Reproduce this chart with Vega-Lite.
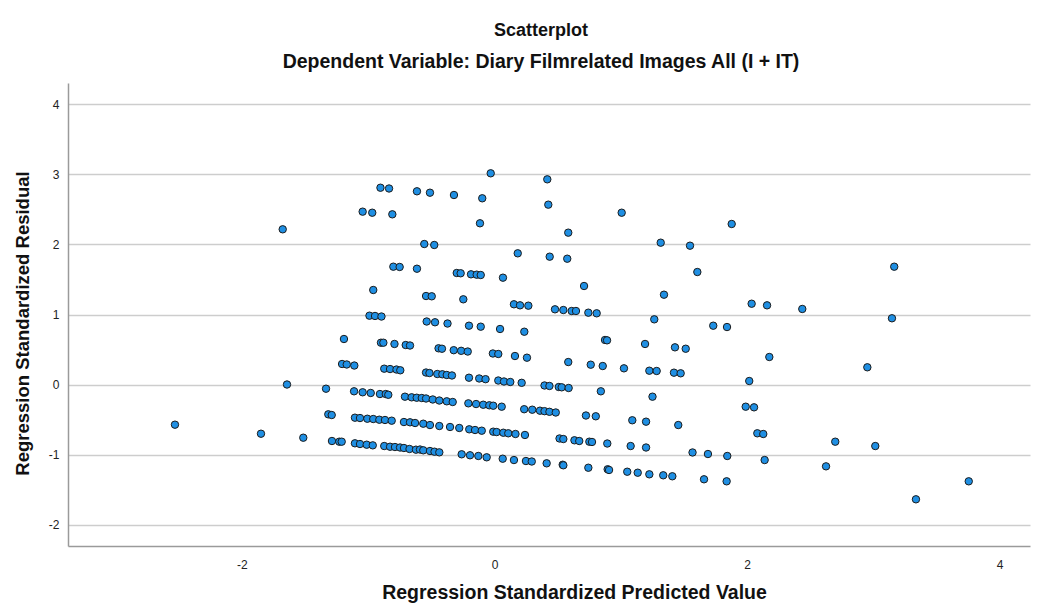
{
  "$schema": "https://vega.github.io/schema/vega-lite/v6.json",
  "width": 962,
  "height": 463,
  "autosize": "none",
  "padding": {"left": 68, "top": 83, "right": 7, "bottom": 66},
  "background": "white",
  "config": {"view": {"stroke": null}, "font": "Liberation Sans"},
  "title": {
    "text": "Scatterplot",
    "subtitle": "Dependent Variable: Diary Filmrelated Images All (I + IT)",
    "anchor": "middle",
    "fontSize": 18,
    "fontWeight": "bold",
    "color": "#111111",
    "subtitleFontSize": 19.5,
    "subtitleFontWeight": "bold",
    "subtitleColor": "#111111",
    "subtitlePadding": 13,
    "offset": 12,
    "dx": -8
  },
  "data": {"values": [
    {"x": -0.030, "y": 3.017}, {"x": -0.903, "y": 2.811}, {"x": -0.835, "y": 2.800}, {"x": -0.614, "y": 2.760},
    {"x": -0.511, "y": 2.740}, {"x": -0.321, "y": 2.707}, {"x": -0.097, "y": 2.660}, {"x": 0.418, "y": 2.931},
    {"x": -1.044, "y": 2.469}, {"x": -0.968, "y": 2.454}, {"x": -0.809, "y": 2.431}, {"x": -0.115, "y": 2.303},
    {"x": -1.677, "y": 2.217}, {"x": 0.426, "y": 2.569}, {"x": 1.007, "y": 2.454}, {"x": 0.584, "y": 2.169},
    {"x": 1.878, "y": 2.293}, {"x": -0.556, "y": 2.007}, {"x": -0.477, "y": 1.993}, {"x": 1.316, "y": 2.026},
    {"x": 1.548, "y": 1.983}, {"x": 0.184, "y": 1.874}, {"x": 0.437, "y": 1.826}, {"x": 0.576, "y": 1.797},
    {"x": -0.801, "y": 1.683}, {"x": -0.751, "y": 1.679}, {"x": -0.614, "y": 1.654}, {"x": -0.299, "y": 1.593},
    {"x": -0.268, "y": 1.589}, {"x": -0.186, "y": 1.574}, {"x": -0.141, "y": 1.569}, {"x": -0.109, "y": 1.564},
    {"x": 0.067, "y": 1.526}, {"x": 1.606, "y": 1.607}, {"x": 3.165, "y": 1.683}, {"x": -0.960, "y": 1.350},
    {"x": -0.542, "y": 1.264}, {"x": -0.497, "y": 1.260}, {"x": -0.247, "y": 1.217}, {"x": 0.709, "y": 1.407},
    {"x": 1.342, "y": 1.283}, {"x": 2.036, "y": 1.154}, {"x": 2.158, "y": 1.131}, {"x": 2.437, "y": 1.079},
    {"x": 0.154, "y": 1.146}, {"x": 0.202, "y": 1.131}, {"x": 0.268, "y": 1.126}, {"x": 0.479, "y": 1.074},
    {"x": 0.545, "y": 1.064}, {"x": 0.611, "y": 1.050}, {"x": 0.645, "y": 1.050}, {"x": 0.743, "y": 1.026},
    {"x": 0.809, "y": 1.017}, {"x": -0.990, "y": 0.983}, {"x": -0.946, "y": 0.979}, {"x": -0.895, "y": 0.971},
    {"x": -0.537, "y": 0.900}, {"x": -0.471, "y": 0.889}, {"x": -0.372, "y": 0.871}, {"x": -0.202, "y": 0.840},
    {"x": -0.109, "y": 0.826}, {"x": 0.044, "y": 0.793}, {"x": 0.236, "y": 0.754}, {"x": 1.265, "y": 0.931},
    {"x": 1.732, "y": 0.840}, {"x": 1.841, "y": 0.821}, {"x": 3.147, "y": 0.946}, {"x": -1.192, "y": 0.650},
    {"x": -0.899, "y": 0.597}, {"x": -0.880, "y": 0.597}, {"x": -0.792, "y": 0.579}, {"x": -0.703, "y": 0.564},
    {"x": -0.669, "y": 0.557}, {"x": -0.443, "y": 0.517}, {"x": -0.416, "y": 0.511}, {"x": -0.323, "y": 0.490},
    {"x": -0.264, "y": 0.481}, {"x": -0.212, "y": 0.471}, {"x": -0.013, "y": 0.443}, {"x": 0.030, "y": 0.436},
    {"x": 0.162, "y": 0.407}, {"x": 0.257, "y": 0.383}, {"x": 0.875, "y": 0.636}, {"x": 0.891, "y": 0.631},
    {"x": 1.192, "y": 0.579}, {"x": 1.429, "y": 0.531}, {"x": 1.514, "y": 0.511}, {"x": 2.176, "y": 0.393},
    {"x": 2.952, "y": 0.246}, {"x": -1.207, "y": 0.293}, {"x": -1.170, "y": 0.286}, {"x": -1.110, "y": 0.271},
    {"x": -0.873, "y": 0.226}, {"x": -0.827, "y": 0.221}, {"x": -0.776, "y": 0.214}, {"x": -0.746, "y": 0.203},
    {"x": 0.584, "y": 0.321}, {"x": 0.762, "y": 0.283}, {"x": 0.857, "y": 0.264}, {"x": 1.025, "y": 0.231},
    {"x": 1.226, "y": 0.197}, {"x": 1.284, "y": 0.193}, {"x": 1.421, "y": 0.169}, {"x": 1.474, "y": 0.160},
    {"x": -0.542, "y": 0.171}, {"x": -0.515, "y": 0.164}, {"x": -0.453, "y": 0.150}, {"x": -0.413, "y": 0.146},
    {"x": -0.378, "y": 0.136}, {"x": -0.337, "y": 0.129}, {"x": -0.202, "y": 0.097}, {"x": -0.121, "y": 0.086},
    {"x": -0.071, "y": 0.076}, {"x": 0.030, "y": 0.057}, {"x": 0.075, "y": 0.043}, {"x": 0.125, "y": 0.036},
    {"x": 0.215, "y": 0.024}, {"x": -1.643, "y": 0.000}, {"x": -1.334, "y": -0.060}, {"x": 0.396, "y": -0.014},
    {"x": 0.435, "y": -0.021}, {"x": 0.509, "y": -0.036}, {"x": 0.532, "y": -0.040}, {"x": 0.587, "y": -0.050},
    {"x": 0.842, "y": -0.097}, {"x": 1.251, "y": -0.174}, {"x": 2.017, "y": 0.050}, {"x": -1.112, "y": -0.097},
    {"x": -1.044, "y": -0.111}, {"x": -0.980, "y": -0.121}, {"x": -0.907, "y": -0.136}, {"x": -0.861, "y": -0.136},
    {"x": -0.841, "y": -0.147}, {"x": -0.709, "y": -0.174}, {"x": -0.656, "y": -0.183}, {"x": -0.616, "y": -0.189},
    {"x": -0.576, "y": -0.193}, {"x": -0.542, "y": -0.200}, {"x": -0.489, "y": -0.214}, {"x": -0.437, "y": -0.229},
    {"x": -0.378, "y": -0.240}, {"x": -0.331, "y": -0.250}, {"x": -0.207, "y": -0.269}, {"x": -0.146, "y": -0.279},
    {"x": -0.089, "y": -0.289}, {"x": -0.041, "y": -0.297}, {"x": -0.010, "y": -0.303}, {"x": 0.057, "y": -0.317},
    {"x": 0.235, "y": -0.353}, {"x": 0.299, "y": -0.360}, {"x": 0.360, "y": -0.374}, {"x": 0.396, "y": -0.381},
    {"x": 0.435, "y": -0.390}, {"x": 0.485, "y": -0.400}, {"x": 0.724, "y": -0.443}, {"x": 0.802, "y": -0.454},
    {"x": 1.091, "y": -0.511}, {"x": 1.200, "y": -0.531}, {"x": 1.455, "y": -0.579}, {"x": 1.989, "y": -0.317},
    {"x": 2.055, "y": -0.326}, {"x": -1.316, "y": -0.426}, {"x": -1.289, "y": -0.436}, {"x": -1.105, "y": -0.474},
    {"x": -1.065, "y": -0.479}, {"x": -1.007, "y": -0.489}, {"x": -0.960, "y": -0.493}, {"x": -0.912, "y": -0.503},
    {"x": -0.867, "y": -0.507}, {"x": -0.814, "y": -0.517}, {"x": -0.717, "y": -0.536}, {"x": -0.669, "y": -0.540},
    {"x": -0.629, "y": -0.550}, {"x": -0.564, "y": -0.560}, {"x": -0.511, "y": -0.579}, {"x": -0.437, "y": -0.593},
    {"x": -0.352, "y": -0.607}, {"x": -0.279, "y": -0.621}, {"x": -0.200, "y": -0.640}, {"x": -0.154, "y": -0.650},
    {"x": -0.101, "y": -0.660}, {"x": -0.010, "y": -0.674}, {"x": 0.017, "y": -0.679}, {"x": 0.070, "y": -0.689},
    {"x": 0.109, "y": -0.697}, {"x": 0.166, "y": -0.707}, {"x": 0.241, "y": -0.721}, {"x": 0.515, "y": -0.771},
    {"x": 0.545, "y": -0.779}, {"x": 0.633, "y": -0.797}, {"x": 0.671, "y": -0.807}, {"x": 0.751, "y": -0.817},
    {"x": 0.772, "y": -0.821}, {"x": 0.893, "y": -0.843}, {"x": 1.078, "y": -0.879}, {"x": 1.200, "y": -0.900},
    {"x": 1.568, "y": -0.971}, {"x": 1.690, "y": -0.993}, {"x": 1.843, "y": -1.021}, {"x": 2.081, "y": -0.697},
    {"x": 2.128, "y": -0.707}, {"x": 2.698, "y": -0.817}, {"x": 3.015, "y": -0.879}, {"x": -2.530, "y": -0.574},
    {"x": -1.849, "y": -0.703}, {"x": -1.514, "y": -0.760}, {"x": -1.287, "y": -0.807}, {"x": -1.229, "y": -0.817},
    {"x": -1.210, "y": -0.817}, {"x": -1.105, "y": -0.840}, {"x": -1.065, "y": -0.850}, {"x": -1.012, "y": -0.860},
    {"x": -0.964, "y": -0.869}, {"x": -0.873, "y": -0.879}, {"x": -0.827, "y": -0.889}, {"x": -0.788, "y": -0.893},
    {"x": -0.748, "y": -0.900}, {"x": -0.717, "y": -0.907}, {"x": -0.673, "y": -0.921}, {"x": -0.622, "y": -0.931},
    {"x": -0.590, "y": -0.929}, {"x": -0.564, "y": -0.940}, {"x": -0.511, "y": -0.950}, {"x": -0.475, "y": -0.960},
    {"x": -0.437, "y": -0.969}, {"x": -0.260, "y": -0.997}, {"x": -0.194, "y": -1.011}, {"x": -0.128, "y": -1.021},
    {"x": -0.062, "y": -1.040}, {"x": 0.065, "y": -1.060}, {"x": 0.154, "y": -1.079}, {"x": 0.249, "y": -1.093},
    {"x": 0.295, "y": -1.100}, {"x": 0.413, "y": -1.126}, {"x": 0.540, "y": -1.146}, {"x": 0.545, "y": -1.154},
    {"x": 0.743, "y": -1.189}, {"x": 0.896, "y": -1.211}, {"x": 0.907, "y": -1.221}, {"x": 1.051, "y": -1.246},
    {"x": 1.134, "y": -1.260}, {"x": 1.226, "y": -1.283}, {"x": 1.336, "y": -1.297}, {"x": 1.408, "y": -1.311},
    {"x": 1.659, "y": -1.354}, {"x": 1.838, "y": -1.383}, {"x": 2.139, "y": -1.079}, {"x": 2.625, "y": -1.169},
    {"x": 3.755, "y": -1.383}, {"x": 3.337, "y": -1.640}
  ]},
  "mark": {"type": "point", "shape": "circle", "filled": true, "size": 55, "fill": "#1f8fe3", "fillOpacity": 1, "stroke": "#1c1c1c", "strokeWidth": 1, "opacity": 1},
  "encoding": {
    "x": {
      "field": "x", "type": "quantitative",
      "scale": {"domain": [-3.377, 4.24], "nice": false, "zero": false},
      "axis": {
        "values": [-2, 0, 2, 4], "grid": false, "ticks": false,
        "labelExpr": "'' + datum.value",
        "domain": true, "domainColor": "#9a9a9a", "domainWidth": 1.5,
        "labelFontSize": 12, "labelColor": "#222222", "labelPadding": 13, "labelFont": "Liberation Sans",
        "title": "Regression Standardized Predicted Value",
        "titleFontSize": 19.5, "titleFontWeight": "bold", "titleColor": "#111111", "titlePadding": 13, "titleFont": "Liberation Sans",
        "titleX": 506
      }
    },
    "y": {
      "field": "y", "type": "quantitative",
      "scale": {"domain": [-2.307, 4.307], "nice": false, "zero": false},
      "axis": {
        "values": [-2, -1, 0, 1, 2, 3, 4], "grid": true, "gridColor": "#cdcdcd", "gridWidth": 1.5, "ticks": false,
        "labelExpr": "'' + datum.value",
        "domain": true, "domainColor": "#9a9a9a", "domainWidth": 1.5,
        "labelFontSize": 12, "labelColor": "#222222", "labelPadding": 9, "labelFont": "Liberation Sans",
        "title": "Regression Standardized Residual",
        "titleFontSize": 18.5, "titleFontWeight": "bold", "titleColor": "#111111", "titlePadding": 16, "titleFont": "Liberation Sans",
        "titleY": 240
      }
    }
  }
}
